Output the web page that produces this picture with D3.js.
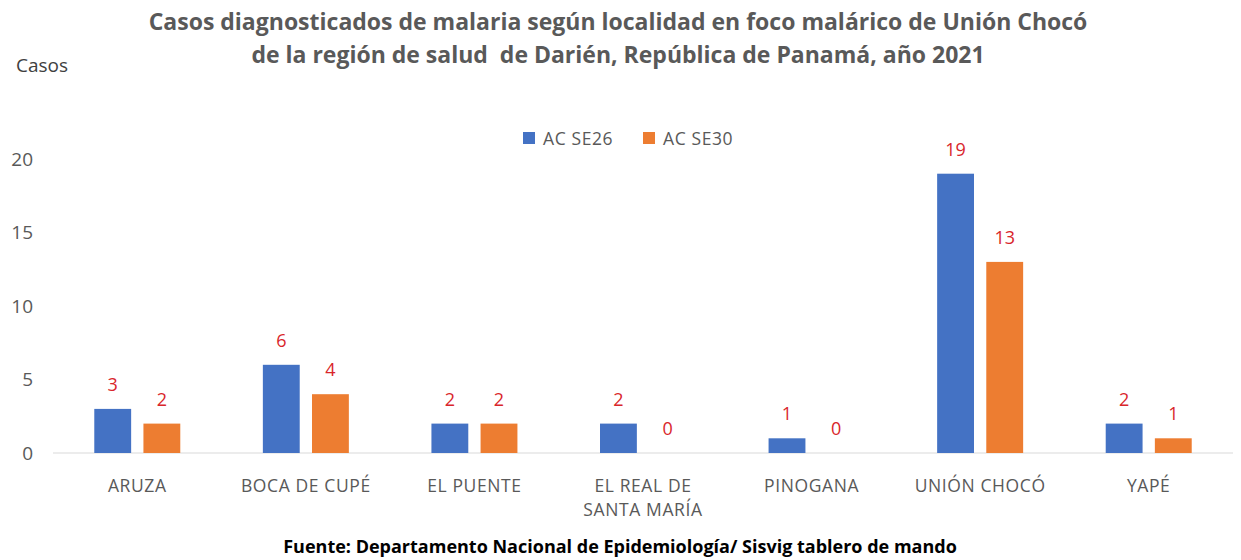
<!DOCTYPE html>
<html>
<head>
<meta charset="utf-8">
<script src="https://cdn.jsdelivr.net/npm/d3@7"></script>
<style>
  body { margin: 0; background: #fff; }
  text { font-family: "Open Sans", "Noto Sans", sans-serif; white-space: pre; }
</style>
</head>
<body>
<div id="chart"></div>
<script>
// data
var localidades = ["ARUZA", "BOCA DE CUPÉ", "EL PUENTE", "EL REAL DE|SANTA MARÍA", "PINOGANA", "UNIÓN CHOCÓ", "YAPÉ"];
var series = ["AC SE26", "AC SE30"];
var se26 = [3, 6, 2, 2, 1, 19, 2];
var se30 = [2, 4, 2, 0, 0, 13, 1];
var yTicks = [0, 5, 10, 15, 20];
var colors = ["#4472C4", "#ED7D31"];

var width = 1241, height = 560;
var margin = {left: 53, right: 8, top: 159, bottom: 107};

var svg = d3.select("#chart").append("svg")
    .attr("width", width)
    .attr("height", height);

// title
var title = svg.append("text")
    .attr("text-anchor", "middle")
    .attr("font-weight", "bold")
    .attr("font-size", 23)
    .attr("fill", "#595959");
title.append("tspan").attr("x", 618).attr("y", 30)
    .text("Casos diagnosticados de malaria según localidad en foco malárico de Unión Chocó");
title.append("tspan").attr("x", 618).attr("y", 63)
    .text("de la región de salud  de Darién, República de Panamá, año 2021");

svg.append("text")
    .attr("x", 16).attr("y", 72)
    .attr("font-size", 19)
    .attr("fill", "#404040")
    .text("Casos");

var x0 = d3.scaleBand()
    .domain(localidades)
    .range([margin.left, width - margin.right])
    .padding(0);

var bw = x0.bandwidth();
var x1 = d3.scaleBand()
    .domain(series)
    .range([bw / 2 - 43, bw / 2 + 43])
    .paddingInner(0.25);

var y = d3.scaleLinear()
    .domain([0, 20])
    .range([453, margin.top]);

// y tick labels (no gridlines)
var yAxis = svg.append("g")
    .attr("transform", "translate(" + 33 + ",0)")
    .call(d3.axisLeft(y).tickValues(yTicks).tickSize(0).tickPadding(0));
yAxis.select(".domain").remove();
yAxis.selectAll("text")
    .attr("font-size", 19)
    .attr("fill", "#595959")
    .attr("font-family", "'Open Sans', sans-serif");

// baseline
svg.append("line")
    .attr("x1", margin.left).attr("x2", width - margin.right)
    .attr("y1", y(0)).attr("y2", y(0))
    .attr("stroke", "#d9d9d9")
    .attr("stroke-width", 1);

var rows = localidades.map(function(d, i){
    return {name: d, values: [se26[i], se30[i]]};
});

var groups = svg.selectAll(".grupo")
    .data(rows)
    .enter().append("g")
    .attr("class", "grupo")
    .attr("transform", function(d){ return "translate(" + x0(d.name) + ",0)"; });

groups.selectAll("rect")
    .data(function(d){ return d.values.map(function(v, j){ return {s: series[j], v: v, j: j}; }); })
    .enter().append("rect")
    .attr("x", function(d){ return x1(d.s); })
    .attr("width", x1.bandwidth())
    .attr("y", function(d){ return y(d.v); })
    .attr("height", function(d){ return y(0) - y(d.v); })
    .attr("fill", function(d){ return colors[d.j]; });

groups.selectAll(".valor")
    .data(function(d){ return d.values.map(function(v, j){ return {s: series[j], v: v}; }); })
    .enter().append("text")
    .attr("class", "valor")
    .attr("x", function(d){ return x1(d.s) + x1.bandwidth() / 2; })
    .attr("y", function(d){ return y(d.v) - 18; })
    .attr("text-anchor", "middle")
    .attr("font-size", 18)
    .attr("fill", "#d9262b")
    .text(function(d){ return d.v; });

// category labels, split on |
groups.each(function(d){
    var parts = d.name.split("|");
    var t = d3.select(this).append("text")
        .attr("text-anchor", "middle")
        .attr("font-size", 17.5)
        .attr("letter-spacing", 0.6)
        .attr("fill", "#595959");
    parts.forEach(function(p, k){
        t.append("tspan")
            .attr("x", bw / 2)
            .attr("y", 492 + k * 24)
            .text(p);
    });
});

// legend
var legend = svg.append("g");
var legX = [523, 643];
series.forEach(function(s, i){
    legend.append("rect")
        .attr("x", legX[i]).attr("y", 132)
        .attr("width", 12).attr("height", 12)
        .attr("fill", colors[i]);
    legend.append("text")
        .attr("x", legX[i] + 20).attr("y", 145)
        .attr("font-size", 17.5)
        .attr("letter-spacing", 0.6)
        .attr("fill", "#595959")
        .text(s);
});

// footer
svg.append("text")
    .attr("x", 620).attr("y", 553)
    .attr("text-anchor", "middle")
    .attr("font-weight", "bold")
    .attr("font-size", 18)
    .attr("fill", "#000")
    .text("Fuente: Departamento Nacional de Epidemiología/ Sisvig tablero de mando");
</script>
</body>
</html>
